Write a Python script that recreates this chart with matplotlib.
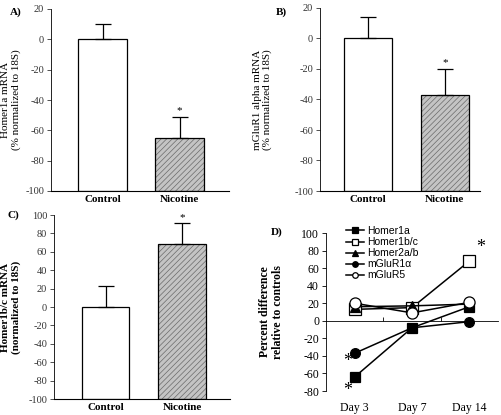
import matplotlib
matplotlib.use("Agg")
import matplotlib.pyplot as plt
from matplotlib.transforms import blended_transform_factory

plt.rcParams["font.family"] = "Liberation Serif"
plt.rcParams["axes.unicode_minus"] = False
plt.rcParams["hatch.linewidth"] = 0.5

W, H = 502, 415

groups = ["Control", "Nicotine"]
homer1a_mean = [0, -65]
homer1a_err = [10, 14]
mglur1_mean = [0, -37]
mglur1_err = [14, 17]
homer1bc_mean = [0, 68]
homer1bc_err = [23, 23]

days = ["Day 3", "Day 7", "Day 14"]
time_series = {
    "Homer1a": [-64, -8, 16],
    "Homer1b/c": [13, 15, 68],
    "Homer2a/b": [16, 17, 19],
    "mGluR1\u03b1": [-37, -8, -1],
    "mGluR5": [20, 9, 21],
}
series_style = {
    "Homer1a": dict(marker="s", mfc="black", ms=7),
    "Homer1b/c": dict(marker="s", mfc="white", ms=8),
    "Homer2a/b": dict(marker="^", mfc="black", ms=7),
    "mGluR1\u03b1": dict(marker="o", mfc="black", ms=7),
    "mGluR5": dict(marker="o", mfc="white", ms=8),
}


def px_axes(fig, left, right, top, bottom):
    return fig.add_axes([left / W, 1 - bottom / H,
                         (right - left) / W, (bottom - top) / H])


def bar_panel(fig, box, means, errs, xlim, ylim, yticks, ylabel,
              label_bold, width, star_idx, label_x):
    ax = px_axes(fig, *box)
    x = range(len(means))
    base = ylim[0]
    heights = [m - base for m in means]
    ax.bar(x, heights, bottom=base, width=width,
           color=["white", "#c4c4c4"], edgecolor=["white", "#6a6a6a"],
           linewidth=0, hatch=[None, "//////"])
    ax.bar(x, heights, bottom=base, width=width, color="none",
           edgecolor="black", linewidth=0.9)
    for i in x:
        ax.errorbar(i, means[i], yerr=[[0], [errs[i]]], fmt="none",
                    ecolor="black", elinewidth=0.9, capsize=6,
                    capthick=0.9)
    i = star_idx
    ax.text(i, means[i] + errs[i] + 1, "*", ha="center", va="bottom",
            fontsize=8)
    ax.set_xlim(*xlim)
    ax.set_ylim(*ylim)
    ax.set_yticks(yticks)
    ax.set_xticks(list(x))
    ax.set_xticklabels(groups, fontweight="bold", fontsize=8)
    ax.tick_params(axis="x", length=0, pad=3)
    ax.tick_params(axis="y", labelsize=7.5, length=3, width=0.6,
                   colors="#333333", pad=2)
    ax.spines["top"].set_visible(False)
    ax.spines["right"].set_visible(False)
    ax.spines["left"].set_linewidth(0.6)
    ax.spines["bottom"].set_linewidth(0.8)
    ax.set_ylabel(ylabel, fontsize=8,
                  fontweight="bold" if label_bold else "normal",
                  linespacing=1.1)
    ax.yaxis.set_label_coords(label_x, 0.5)
    return ax


fig = plt.figure(figsize=(W / 100, H / 100), dpi=100)

bar_panel(fig, (51, 229, 9, 191), homer1a_mean, homer1a_err,
          (-0.67, 1.64), (-100, 20), range(-100, 21, 20),
          "Homer1a mRNA\n(% normalized to 18S)", False, 0.64, 1, -0.17)
bar_panel(fig, (320, 480, 8, 191), mglur1_mean, mglur1_err,
          (-0.63, 1.46), (-100, 20), range(-100, 21, 20),
          "mGluR1 alpha mRNA\n(% normalized to 18S)", False, 0.63, 1, -0.30)
bar_panel(fig, (54, 230, 215, 399), homer1bc_mean, homer1bc_err,
          (-0.68, 1.63), (-100, 100), range(-100, 101, 20),
          "Homer1b/c mRNA\n(normalized to 18S)", True, 0.62, 1, -0.19)

ax = px_axes(fig, 326, 498, 233, 391)
xs = range(len(days))
for name, vals in time_series.items():
    st = series_style[name]
    ax.plot(xs, vals, color="black", lw=1.1, marker=st["marker"],
            ms=st["ms"], mfc=st["mfc"], mec="black", mew=0.9,
            label=name, clip_on=False)
ax.set_xlim(-0.5, 2.5)
ax.set_ylim(-80, 100)
ax.set_yticks(range(-80, 101, 20))
ax.set_xticks([0.5, 1.5])
ax.set_xticklabels([])
ax.tick_params(axis="x", direction="in", length=3, width=0.6)
ax.tick_params(axis="y", labelsize=8.5, length=3, width=0.6, pad=2)
ax.spines["top"].set_visible(False)
ax.spines["right"].set_visible(False)
ax.spines["bottom"].set_position(("data", 0))
ax.spines["bottom"].set_linewidth(0.6)
ax.spines["left"].set_linewidth(0.6)
trans = blended_transform_factory(ax.transData, ax.transAxes)
for i, d in enumerate(days):
    ax.text(i, -0.07, d, transform=trans, ha="center", va="top",
            fontsize=8.5)
ax.set_ylabel("Percent difference\nrelative to controls", fontsize=8.5,
              fontweight="bold", linespacing=1.1)
ax.yaxis.set_label_coords(-0.245, 0.5)
ax.text(2.19, 83, "*", ha="center", va="center", fontsize=13)
ax.text(-0.12, -46, "*", ha="center", va="center", fontsize=13)
ax.text(-0.12, -79, "*", ha="center", va="center", fontsize=13,
        clip_on=False)
leg = ax.legend(loc="upper left", bbox_to_anchor=(0.09, 1.07),
                frameon=False, prop={"family": "Liberation Sans", "size": 7.5},
                handlelength=1.8, handletextpad=0.3, labelspacing=0.1,
                borderaxespad=0)
for h in leg.legend_handles:
    h.set_markersize(4)

fig.text(10 / W, 1 - 12 / H, "A)", fontsize=8, fontweight="bold", va="center")
fig.text(276 / W, 1 - 12 / H, "B)", fontsize=8, fontweight="bold", va="center")
fig.text(8 / W, 1 - 215 / H, "C)", fontsize=8, fontweight="bold", va="center")
fig.text(271 / W, 1 - 232 / H, "D)", fontsize=8, fontweight="bold", va="center")

fig.savefig("out.png", dpi=100)
